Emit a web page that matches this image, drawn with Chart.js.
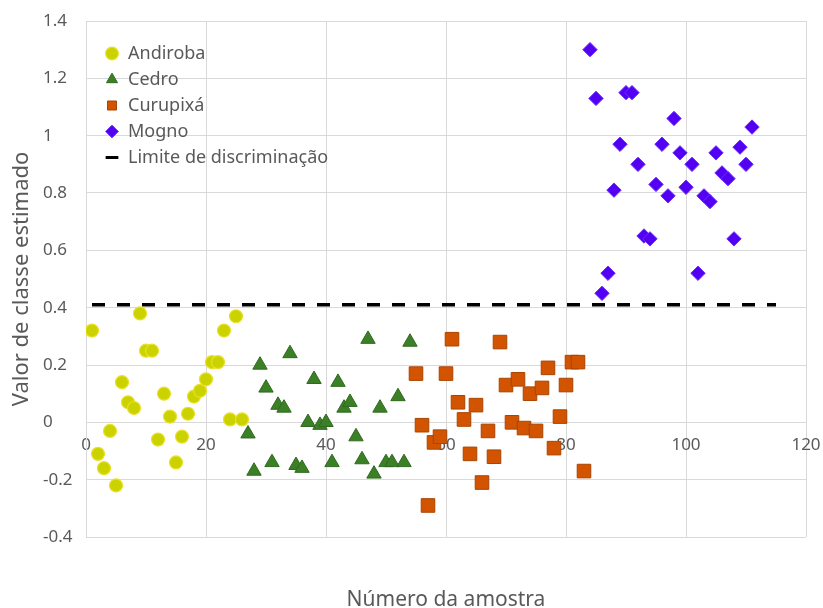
<!DOCTYPE html>
<html>
<head>
<meta charset="utf-8">
<script src="https://cdn.jsdelivr.net/npm/chart.js@4.4.1/dist/chart.umd.min.js"></script>
<style>
  html, body { margin: 0; padding: 0; background: #fff; }
  #wrap { width: 823px; height: 608px; }
</style>
</head>
<body>
<div id="wrap"><canvas id="myScatter"></canvas></div>
<script>
Chart.defaults.font.family = "'Noto Sans', sans-serif";
Chart.defaults.color = '#595959';

// sample numbers and estimated class values per species
let andirobaX = [1, 2, 3, 4, 5, 6, 7, 8, 9, 10, 11, 12, 13, 14, 15, 16, 17, 18, 19, 20, 21, 22, 23, 24, 25, 26];
let andirobaY = [0.32, -0.11, -0.16, -0.03, -0.22, 0.14, 0.07, 0.05, 0.38, 0.25, 0.25, -0.06, 0.10, 0.02, -0.14, -0.05, 0.03, 0.09, 0.11, 0.15, 0.21, 0.21, 0.32, 0.01, 0.37, 0.01];

let cedroX = [27, 28, 29, 30, 31, 32, 33, 34, 35, 36, 37, 38, 39, 40, 41, 42, 43, 44, 45, 46, 47, 48, 49, 50, 51, 52, 53, 54];
let cedroY = [-0.04, -0.17, 0.20, 0.12, -0.14, 0.06, 0.05, 0.24, -0.15, -0.16, 0.00, 0.15, -0.01, 0.00, -0.14, 0.14, 0.05, 0.07, -0.05, -0.13, 0.29, -0.18, 0.05, -0.14, -0.14, 0.09, -0.14, 0.28];

let curupixaX = [55, 56, 57, 58, 59, 60, 61, 62, 63, 64, 65, 66, 67, 68, 69, 70, 71, 72, 73, 74, 75, 76, 77, 78, 79, 80, 81, 82, 83];
let curupixaY = [0.17, -0.01, -0.29, -0.07, -0.05, 0.17, 0.29, 0.07, 0.01, -0.11, 0.06, -0.21, -0.03, -0.12, 0.28, 0.13, 0.00, 0.15, -0.02, 0.10, -0.03, 0.12, 0.19, -0.09, 0.02, 0.13, 0.21, 0.21, -0.17];

let mognoX = [84, 85, 86, 87, 88, 89, 90, 91, 92, 93, 94, 95, 96, 97, 98, 99, 100, 101, 102, 103, 104, 105, 106, 107, 108, 109, 110, 111];
let mognoY = [1.30, 1.13, 0.45, 0.52, 0.81, 0.97, 1.15, 1.15, 0.90, 0.65, 0.64, 0.83, 0.97, 0.79, 1.06, 0.94, 0.82, 0.90, 0.52, 0.79, 0.77, 0.94, 0.87, 0.85, 0.64, 0.96, 0.90, 1.03];

// discrimination limit
let limiteX = [1, 115];
let limiteY = [0.41, 0.41];

let seriesNames = ['Andiroba', 'Cedro', 'Curupixá', 'Mogno', 'Limite de discriminação'];

function toPoints(xs, ys) {
    return xs.map((x, i) => ({ x: x, y: ys[i] }));
}

// move the in-plot legend to the upper left corner
const legendSpot = {
    id: 'legendSpot',
    afterLayout(chart) {
        const lg = chart.legend;
        const area = chart.chartArea;
        lg.left = area.left + 11;
        lg.top = area.top + 15.5;
        lg.right = area.right;
        lg.bottom = area.bottom;
    }
};

let ctx = document.getElementById('myScatter').getContext('2d');
let chart = new Chart(ctx, {
    type: 'scatter',
    data: {
        datasets: [{
            label: seriesNames[0],
            data: toPoints(andirobaX, andirobaY),
            pointStyle: 'circle',
            pointRadius: 6.5,
            backgroundColor: '#cad300',
            borderColor: '#ecdf2a',
            borderWidth: 1.2
        }, {
            label: seriesNames[1],
            data: toPoints(cedroX, cedroY),
            pointStyle: 'triangle',
            pointRadius: 8.3,
            backgroundColor: '#3b7f27',
            borderColor: '#2f6a1f',
            borderWidth: 1
        }, {
            label: seriesNames[2],
            data: toPoints(curupixaX, curupixaY),
            pointStyle: 'rect',
            pointRadius: 9.6,
            backgroundColor: '#d35400',
            borderColor: '#a94400',
            borderWidth: 1
        }, {
            label: seriesNames[3],
            data: toPoints(mognoX, mognoY),
            pointStyle: 'rectRot',
            pointRadius: 7.2,
            backgroundColor: '#5300f2',
            borderColor: '#6a2cff',
            borderWidth: 1
        }, {
            label: seriesNames[4],
            data: toPoints(limiteX, limiteY),
            showLine: true,
            pointRadius: 0,
            pointStyle: 'line',
            pointBorderWidth: 3,
            borderColor: '#000000',
            backgroundColor: '#000000',
            borderWidth: 3.5,
            borderDash: [13, 12]
        }]
    },
    options: {
        responsive: true,
        maintainAspectRatio: false,
        animation: false,
        layout: {
            padding: { top: 21, right: 17, bottom: 0, left: 0 }
        },
        scales: {
            x: {
                type: 'linear',
                min: 0,
                max: 120,
                position: { y: 0 },
                afterFit: (axis) => {
                    axis.height = 0;
                    axis.paddingLeft = 0;
                    axis.paddingRight = 0;
                },
                grid: { color: '#d9d9d9', drawTicks: false },
                border: { color: '#d9d9d9' },
                ticks: {
                    stepSize: 20,
                    padding: 13,
                    font: { size: 17 },
                    color: '#595959'
                }
            },
            y: {
                min: -0.4,
                max: 1.4,
                afterFit: (axis) => { axis.width = 43; },
                grid: { color: '#d9d9d9', drawTicks: false },
                border: { color: '#d9d9d9' },
                ticks: {
                    stepSize: 0.2,
                    crossAlign: 'far',
                    font: { size: 17 },
                    color: '#595959',
                    callback: (v) => String(Math.round(v * 10) / 10)
                }
            }
        },
        plugins: {
            legend: {
                position: 'chartArea',
                align: 'start',
                labels: {
                    usePointStyle: true,
                    boxWidth: 14,
                    boxHeight: 9,
                    padding: 8,
                    color: '#595959',
                    font: { size: 18 }
                }
            },
            title: {
                display: true,
                position: 'left',
                fullSize: false,
                text: 'Valor de classe estimado',
                color: '#595959',
                font: { size: 22, weight: 'normal' },
                padding: { top: 9, bottom: 7.6 }
            },
            subtitle: {
                display: true,
                position: 'bottom',
                fullSize: false,
                text: 'Número da amostra',
                color: '#595959',
                font: { size: 21, weight: 'normal' },
                padding: { top: 50.8, bottom: -5 }
            },
            tooltip: { enabled: false }
        }
    },
    plugins: [legendSpot]
});
</script>
</body>
</html>
